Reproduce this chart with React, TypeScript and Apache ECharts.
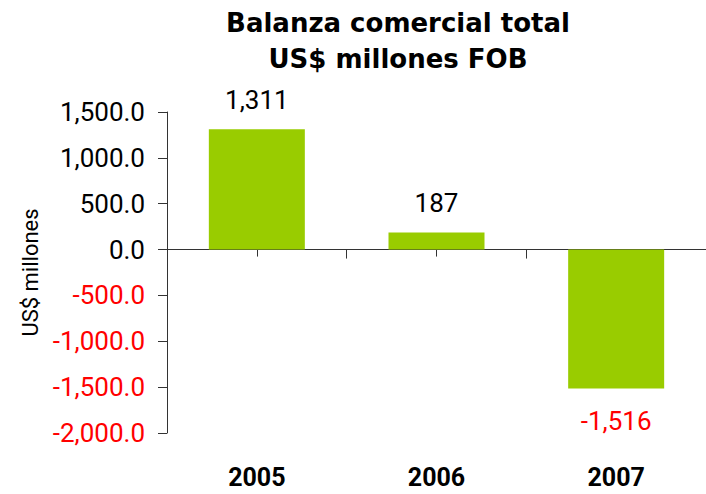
import React, { useEffect, useRef } from "react";
import * as echarts from "echarts";

const categories = ["2005", "2006", "2007"];
const balance = [1311, 187, -1516];
const yMin = -2000;
const yMax = 1500;
const yStep = 500;

const FONT = "Roboto, 'Liberation Sans', sans-serif";
const TITLE_FONT = "'DejaVu Sans', 'Liberation Sans', sans-serif";
const RED = "#FF0000";
const GREEN = "#99CC00";

function fmtTick(v: number): string {
  return v.toLocaleString("en-US", { minimumFractionDigits: 1, maximumFractionDigits: 1 });
}

export default function App() {
  const ref = useRef<HTMLDivElement>(null);
  useEffect(() => {
    if (!ref.current) return;
    const chart = echarts.init(ref.current, undefined, { renderer: "svg" });
    const option: any = {
      animation: false,
      backgroundColor: "#fff",
      title: {
        text: "Balanza comercial total\nUS$ millones FOB",
        left: 393,
        top: 0,
        textAlign: "center",
        textStyle: {
          fontFamily: TITLE_FONT,
          fontWeight: "bold",
          fontSize: 26,
          lineHeight: 36,
          color: "#000",
        },
      },
      grid: { left: 167, right: -3, top: 112, bottom: 61, containLabel: false },
      xAxis: [
        {
          type: "category",
          data: categories,
          position: "bottom",
          axisLine: { onZero: true, lineStyle: { color: "#333", width: 1 } },
          axisTick: { show: true, length: 9, lineStyle: { color: "#333" } },
          axisLabel: { show: false },
          splitLine: { show: false },
        },
        {
          type: "category",
          data: categories,
          position: "bottom",
          axisLine: { show: false, onZero: false },
          axisTick: { show: false },
          axisLabel: {
            show: true,
            margin: 32,
            fontFamily: FONT,
            fontWeight: "bold",
            fontSize: 25,
            color: "#000",
          },
          splitLine: { show: false },
        },
        {
          type: "category",
          data: categories,
          position: "bottom",
          axisLine: { show: false, onZero: true, onZeroAxisIndex: 1 },
          axisTick: { show: true, alignWithLabel: true, length: 7, lineStyle: { color: "#333" } },
          axisLabel: { show: false },
          splitLine: { show: false },
        },
      ],
      yAxis: [
        {
          type: "value",
          min: yMin,
          max: yMax,
          interval: yStep,
          name: "US$ millones",
          nameLocation: "middle",
          nameRotate: 90,
          nameGap: 120,
          nameTextStyle: { fontFamily: FONT, fontSize: 22, color: "#000" },
          axisLine: { show: true, lineStyle: { color: "#333", width: 1 } },
          axisTick: { show: true, length: 9, lineStyle: { color: "#333" } },
          splitLine: { show: false },
          axisLabel: {
            margin: 22,
            fontFamily: FONT,
            fontSize: 26,
            formatter: (v: number) => fmtTick(v),
            color: (v: any) => (Number(v) < 0 ? RED : "#000"),
          },
        },
        {
          type: "value",
          min: yMin,
          max: yMax,
          interval: yStep,
          show: false,
        },
      ],
      series: [
        {
          type: "bar",
          xAxisIndex: 0,
          yAxisIndex: 0,
          barWidth: 96,
          itemStyle: { color: GREEN },
          data: balance.map((v) => ({
            value: v,
            label: {
              show: true,
              position: v >= 0 ? "top" : "bottom",
              distance: v >= 0 ? 16 : 19,
              color: v >= 0 ? "#000" : RED,
              fontFamily: FONT,
              fontSize: 26,
              formatter: () => v.toLocaleString("en-US"),
            },
          })),
        },
      ],
    };
    chart.setOption(option);
    return () => chart.dispose();
  }, []);
  return (
    <div
      ref={ref}
      style={{ position: "fixed", left: 0, top: 0, width: 706, height: 494 }}
    />
  );
}
